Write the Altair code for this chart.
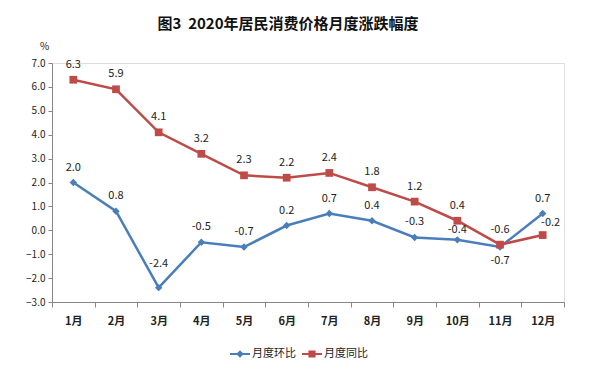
import altair as alt
import pandas as pd

months = ["1月", "2月", "3月", "4月", "5月", "6月", "7月", "8月", "9月", "10月", "11月", "12月"]
mom = [2.0, 0.8, -2.4, -0.5, -0.7, 0.2, 0.7, 0.4, -0.3, -0.4, -0.7, 0.7]
yoy = [6.3, 5.9, 4.1, 3.2, 2.3, 2.2, 2.4, 1.8, 1.2, 0.4, -0.6, -0.2]
series_names = ["月度环比", "月度同比"]
colors = ["#4A7EBB", "#BE4B48"]
y_ticks = [-3, -2, -1, 0, 1, 2, 3, 4, 5, 6, 7]
title_text = "图3\u00a0\u00a02020年居民消费价格月度涨跌幅度"

rows = []
for i, m in enumerate(months):
    rows.append({"month": m, "series": series_names[0], "value": mom[i]})
    rows.append({"month": m, "series": series_names[1], "value": yoy[i]})
df = pd.DataFrame(rows)

FONT = "Noto Sans CJK SC"
AX = "#868686"

x = alt.X(
    "month:N", sort=months, bandPosition=0.5,
    scale=alt.Scale(type="band", paddingInner=0, paddingOuter=0),
    axis=alt.Axis(title=None, tickBand="extent", labelAngle=0, labelFontSize=11,
                  labelFontWeight="bold", labelPadding=8, tickSize=5,
                  domainColor=AX, tickColor=AX, labelColor="#222", labelFont=FONT),
)
y = alt.Y(
    "value:Q", scale=alt.Scale(domain=[-3, 7], nice=False, zero=False),
    axis=alt.Axis(values=y_ticks, format=".1f", grid=False, tickSize=4, labelPadding=3,
                  domainColor=AX, tickColor=AX, labelColor="#222", labelFontSize=10,
                  labelFont=FONT,
                  title="%", titleAngle=0, titleX=-8, titleY=-12, titleAlign="center",
                  titleFontSize=10, titleFontWeight="normal", titleColor="#222", titleFont=FONT),
)
color_nolegend = alt.Color("series:N", scale=alt.Scale(domain=series_names, range=colors), legend=None)

base = alt.Chart(df)

lines = base.mark_line(strokeWidth=2.5).encode(x=x, y=y, color=color_nolegend)

pts_blue = base.mark_point(filled=True, shape="diamond", size=55, opacity=1).encode(
    x=x, y=y, color=color_nolegend).transform_filter(alt.datum.series == series_names[0])
pts_red = base.mark_point(filled=True, shape="square", size=60, opacity=1).encode(
    x=x, y=y, color=color_nolegend).transform_filter(alt.datum.series == series_names[1])

label_calc = "replace(format(datum.value, '.1f'), '\u2212', '-')"

def is_pt(s, m):
    return (alt.datum.series == series_names[s]) & (alt.datum.month == m)

special = [
    (is_pt(0, "11月"), 0, 14),
    (is_pt(0, "10月"), 0, -10),
    (is_pt(0, "3月"), 0, -24),
    (is_pt(1, "12月"), 8, -12),
]

def label_layer(flt, dx, dy):
    return base.transform_filter(flt).transform_calculate(lbl=label_calc).mark_text(
        fontSize=11, font=FONT, color="#222", baseline="middle", dx=dx, dy=dy
    ).encode(x=x, y=y, text="lbl:N")

not_special = ~(special[0][0] | special[1][0] | special[2][0] | special[3][0])
label_layers = [label_layer(not_special, 0, -15)] + [label_layer(f, dx, dy) for f, dx, dy in special]

p_line_diamond = "M-1,-0.1H1V0.1H-1Z M0,-0.38L0.38,0L0,0.38L-0.38,0Z"
p_line_square = "M-1,-0.1H1V0.1H-1Z M-0.36,-0.36H0.36V0.36H-0.36Z"

leg = alt.Legend(orient="none", legendX=178, legendY=281, direction="horizontal", title=None,
                 symbolSize=400, symbolOpacity=1, symbolStrokeWidth=0, labelFontSize=11,
                 labelFont=FONT, labelColor="#222", columnPadding=6, labelOffset=2)
legend_layer = base.mark_point(filled=True, opacity=0).encode(
    x=x, y=y,
    color=alt.Color("series:N", scale=alt.Scale(domain=series_names, range=colors), legend=leg),
    shape=alt.Shape("series:N", scale=alt.Scale(domain=series_names, range=[p_line_diamond, p_line_square]), legend=leg),
)

chart = alt.layer(lines, pts_blue, pts_red, *label_layers, legend_layer).resolve_scale(
    color="independent", shape="independent"
).properties(
    width=512, height=239,
    autosize=alt.AutoSizeParams(type="none"),
    padding={"left": 52, "top": 63, "right": 26, "bottom": 74},
    title=alt.TitleParams(title_text, font=FONT, fontSize=15, fontWeight="bold", color="#111",
                          anchor="middle", dx=-20, offset=9),
).configure_view(stroke=None).configure(background="white")

chart.save("out.html", embed_options={"renderer": "svg", "actions": False})
